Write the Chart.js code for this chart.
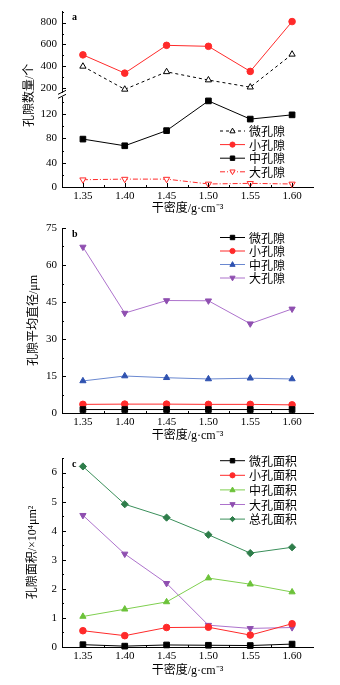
<!DOCTYPE html>
<html>
<head>
<meta charset="utf-8">
<script src="https://cdn.jsdelivr.net/npm/chart.js@4.4.0/dist/chart.umd.min.js"></script>
<style>
    body { margin: 0; background: #ffffff; }
    #figure { position: relative; width: 340px; height: 685px; overflow: hidden; }
    .panel { position: absolute; left: 0; width: 340px; }
</style>
</head>
<body>
<div id="figure">
    <div class="panel" style="top:0px;height:216px"><canvas id="chartA"></canvas></div>
    <div class="panel" style="top:215px;height:228px"><canvas id="chartB"></canvas></div>
    <div class="panel" style="top:440px;height:238px"><canvas id="chartC"></canvas></div>
</div>
<script>
// Dry density categories (x axis)
const densityLabels = ['1.35', '1.40', '1.45', '1.50', '1.55', '1.60'];

// Panel a - pore counts
const microCount = [400, 190, 350, 275, 210, 510];
const smallCount = [505, 338, 592, 583, 354, 809];
const mediumCount = [79, 68, 93, 142, 112, 119];
const largeCount = [12, 13, 13, 5, 6, 5];
const countTicksUpper = [200, 400, 600, 800];
const countTicksLower = [0, 40, 80, 120];

// Panel b - mean pore diameter (um)
const microDiameter = [1.4, 1.4, 1.4, 1.4, 1.4, 1.4];
const smallDiameter = [3.5, 3.6, 3.6, 3.5, 3.5, 3.3];
const mediumDiameter = [13.0, 15.0, 14.3, 13.8, 14.1, 13.8];
const largeDiameter = [67.3, 40.5, 45.6, 45.5, 36.2, 42.2];
const diameterTicks = [0, 15, 30, 45, 60, 75];

// Panel c - pore area (x10^4 um^2)
const microArea = [0.08, 0.03, 0.07, 0.06, 0.05, 0.10];
const smallArea = [0.56, 0.39, 0.67, 0.68, 0.41, 0.80];
const mediumArea = [1.05, 1.30, 1.55, 2.37, 2.16, 1.89];
const largeArea = [4.53, 3.20, 2.19, 0.75, 0.64, 0.67];
const totalArea = [6.21, 4.91, 4.45, 3.86, 3.23, 3.43];
const areaTicks = [0, 1, 2, 3, 4, 5, 6];

const SERIF = "'Liberation Serif', 'Noto Sans CJK SC', serif";
const CJK = "'Noto Sans CJK SC', 'Liberation Serif', sans-serif";

Chart.defaults.font.family = SERIF;
Chart.defaults.font.size = 11;
Chart.defaults.color = '#000';

// Build one line series
function makeSeries(label, data, opts) {
    return {
        label: label,
        data: data,
        borderColor: opts.line,
        borderWidth: 1,
        borderDash: opts.dash || [],
        pointStyle: opts.shape,
        pointRotation: opts.rotation || 0,
        pointRadius: opts.radius || 3.3,
        pointBackgroundColor: opts.fill,
        pointBorderColor: opts.marker,
        pointBorderWidth: 1,
        yAxisID: opts.axis || 'y',
        tension: 0,
        clip: false
    };
}

// Draw a small marker for the legend
function drawMarker(ctx, ds, x, y) {
    const r = 2.6;
    ctx.save();
    ctx.setLineDash([]);
    ctx.lineWidth = 1;
    ctx.fillStyle = ds.pointBackgroundColor;
    ctx.strokeStyle = ds.pointBorderColor;
    ctx.translate(x, y);
    ctx.rotate((ds.pointRotation || 0) * Math.PI / 180);
    ctx.beginPath();
    if (ds.pointStyle === 'circle') {
        ctx.arc(0, 0, r, 0, Math.PI * 2);
    } else if (ds.pointStyle === 'rect') {
        ctx.rect(-r * 0.85, -r * 0.85, r * 1.7, r * 1.7);
    } else if (ds.pointStyle === 'rectRot') {
        ctx.moveTo(0, -r); ctx.lineTo(r, 0); ctx.lineTo(0, r); ctx.lineTo(-r, 0); ctx.closePath();
    } else {
        ctx.moveTo(0, -r * 1.1); ctx.lineTo(r, r * 0.7); ctx.lineTo(-r, r * 0.7); ctx.closePath();
    }
    ctx.fill();
    ctx.stroke();
    ctx.restore();
}

// Legend with line segment + marker, Origin style
const lineLegend = {
    id: 'lineLegend',
    afterDraw(chart, args, opts) {
        const ctx = chart.ctx;
        ctx.save();
        chart.data.datasets.forEach((ds, i) => {
            const y = opts.y0 + i * opts.dy;
            ctx.strokeStyle = ds.borderColor;
            ctx.lineWidth = 1;
            ctx.setLineDash(ds.borderDash || []);
            ctx.beginPath();
            ctx.moveTo(220, y);
            ctx.lineTo(245, y);
            ctx.stroke();
            drawMarker(ctx, ds, 232.5, y);
            ctx.fillStyle = '#000';
            ctx.font = '12px ' + CJK;
            ctx.textBaseline = 'middle';
            ctx.textAlign = 'left';
            ctx.fillText(ds.label, 249, y + 0.5);
        });
        ctx.restore();
    }
};

// Inward major / minor ticks, panel letter, axis break, optional y title
const panelDecor = {
    id: 'panelDecor',
    afterDraw(chart, args, opts) {
        const ctx = chart.ctx;
        const area = chart.chartArea;
        ctx.save();
        ctx.strokeStyle = '#000';
        ctx.lineWidth = 1;
        ctx.setLineDash([]);

        Object.values(chart.scales).forEach(scale => {
            if (scale.isHorizontal()) {
                const n = scale.ticks.length;
                for (let i = 0; i < n; i++) {
                    const px = Math.round(scale.getPixelForTick(i)) + 0.5;
                    ctx.beginPath(); ctx.moveTo(px, scale.top); ctx.lineTo(px, scale.top - 4); ctx.stroke();
                    if (i < n - 1) {
                        const mx = Math.round((scale.getPixelForTick(i) + scale.getPixelForTick(i + 1)) / 2) + 0.5;
                        ctx.beginPath(); ctx.moveTo(mx, scale.top); ctx.lineTo(mx, scale.top - 2); ctx.stroke();
                    }
                }
            } else {
                const vals = scale.ticks.map(t => t.value);
                const step = vals[1] - vals[0];
                vals.forEach((v, i) => {
                    const py = Math.round(scale.getPixelForValue(v)) + 0.5;
                    ctx.beginPath(); ctx.moveTo(scale.right, py); ctx.lineTo(scale.right + 4, py); ctx.stroke();
                    const mv = v + step / 2;
                    if (mv <= scale.max) {
                        const my = Math.round(scale.getPixelForValue(mv)) + 0.5;
                        ctx.beginPath(); ctx.moveTo(scale.right, my); ctx.lineTo(scale.right + 2, my); ctx.stroke();
                    }
                });
            }
        });

        // axis break marks
        if (opts.breakScale) {
            const b = chart.scales[opts.breakScale].bottom;
            const x = area.left;
            ctx.fillStyle = '#fff';
            ctx.fillRect(x - 1.5, b - 2, 3, 4);
            ctx.beginPath();
            ctx.moveTo(x - 4, b - 0.5); ctx.lineTo(x + 4, b - 4.5);
            ctx.moveTo(x - 4, b + 3.5); ctx.lineTo(x + 4, b - 0.5);
            ctx.stroke();
        }

        // panel letter
        ctx.fillStyle = '#000';
        ctx.font = 'bold 10px ' + SERIF;
        ctx.textAlign = 'left';
        ctx.textBaseline = 'top';
        ctx.fillText(opts.letter, area.left + 10, area.top + 1);

        // y title spanning the broken axis
        if (opts.yTitle) {
            ctx.translate(30, (area.top + area.bottom) / 2 - 4);
            ctx.rotate(-Math.PI / 2);
            ctx.font = '12px ' + SERIF;
            ctx.textAlign = 'center';
            ctx.textBaseline = 'middle';
            ctx.fillText(opts.yTitle, 0, 0);
        }
        ctx.restore();
    }
};

Chart.register(lineLegend, panelDecor);

// Shared x axis
function xAxis(height) {
    return {
        type: 'category',
        offset: true,
        grid: { display: false, drawTicks: false },
        border: { display: true, color: '#000', width: 1 },
        ticks: { padding: 3, font: { size: 11 } },
        title: {
            display: true,
            text: '干密度/g·cm⁻³',
            font: { size: 12, family: SERIF },
            padding: { top: 0, bottom: 0 }
        },
        afterFit(scale) { scale.height = height; }
    };
}

// Shared y axis
function yAxis(min, max, tickValues, extra) {
    const axis = {
        type: 'linear',
        position: 'left',
        min: min,
        max: max,
        grid: { display: false, drawTicks: false },
        border: { display: true, color: '#000', width: 1 },
        ticks: { padding: 5, font: { size: 11 } },
        afterBuildTicks(scale) {
            scale.ticks = tickValues.map(v => ({ value: v }));
        },
        afterFit(scale) { scale.width = 62; }
    };
    return Object.assign(axis, extra || {});
}

function baseOptions(topPad) {
    return {
        responsive: true,
        maintainAspectRatio: false,
        animation: false,
        layout: { padding: { left: 0, right: 27, top: topPad, bottom: 0 } },
        plugins: { legend: { display: false }, tooltip: { enabled: false } }
    };
}

// Panel a: pore counts, broken y axis (first axis in the stack is placed at the bottom)
function initializeChartA() {
    const options = baseOptions(10);
    options.scales = {
        x: xAxis(29),
        yBot: yAxis(0, 152, countTicksLower, { stack: 'count', stackWeight: 93 }),
        yTop: yAxis(140, 900, countTicksUpper, { stack: 'count', stackWeight: 84 })
    };
    options.plugins.lineLegend = { y0: 131, dy: 13.6 };
    options.plugins.panelDecor = { letter: 'a', breakScale: 'yTop', yTitle: '孔隙数量/个' };

    new Chart(document.getElementById('chartA'), {
        type: 'line',
        data: {
            labels: densityLabels,
            datasets: [
                makeSeries('微孔隙', microCount, { line: '#000', marker: '#000', fill: '#fff', shape: 'triangle', dash: [3, 3], axis: 'yTop', radius: 3.6 }),
                makeSeries('小孔隙', smallCount, { line: '#ff2a2a', marker: '#ff2a2a', fill: '#ff2a2a', shape: 'circle', axis: 'yTop' }),
                makeSeries('中孔隙', mediumCount, { line: '#000', marker: '#000', fill: '#000', shape: 'rect', axis: 'yBot', radius: 4 }),
                makeSeries('大孔隙', largeCount, { line: '#ff2a2a', marker: '#ff2a2a', fill: '#fff', shape: 'triangle', rotation: 180, dash: [5, 2, 1, 2], axis: 'yBot', radius: 3.6 })
            ]
        },
        options: options
    });
}

// Panel b: mean diameter
function initializeChartB() {
    const options = baseOptions(13);
    options.scales = {
        x: xAxis(30),
        y: yAxis(0, 75, diameterTicks, {
            title: { display: true, text: '孔隙平均直径/μm', font: { size: 12, family: SERIF }, padding: { top: 27, bottom: 0 } }
        })
    };
    options.plugins.lineLegend = { y0: 22.5, dy: 13.5 };
    options.plugins.panelDecor = { letter: 'b' };

    new Chart(document.getElementById('chartB'), {
        type: 'line',
        data: {
            labels: densityLabels,
            datasets: [
                makeSeries('微孔隙', microDiameter, { line: '#000', marker: '#000', fill: '#000', shape: 'rect', radius: 4 }),
                makeSeries('小孔隙', smallDiameter, { line: '#ff2a2a', marker: '#ff2a2a', fill: '#ff2a2a', shape: 'circle' }),
                makeSeries('中孔隙', mediumDiameter, { line: '#6a88d0', marker: '#2f52b0', fill: '#2f52b0', shape: 'triangle', radius: 3.6 }),
                makeSeries('大孔隙', largeDiameter, { line: '#ad72cc', marker: '#8f4fb0', fill: '#8f4fb0', shape: 'triangle', rotation: 180, radius: 3.6 })
            ]
        },
        options: options
    });
}

// Panel c: pore area
function initializeChartC() {
    const options = baseOptions(18);
    options.scales = {
        x: xAxis(31),
        y: yAxis(0, 6.5, areaTicks, {
            title: { display: true, text: '孔隙面积/×10⁴μm²', font: { size: 12, family: SERIF }, padding: { top: 26, bottom: 0 } }
        })
    };
    options.plugins.lineLegend = { y0: 20.7, dy: 14.6 };
    options.plugins.panelDecor = { letter: 'c' };

    new Chart(document.getElementById('chartC'), {
        type: 'line',
        data: {
            labels: densityLabels,
            datasets: [
                makeSeries('微孔面积', microArea, { line: '#000', marker: '#000', fill: '#000', shape: 'rect', radius: 4 }),
                makeSeries('小孔面积', smallArea, { line: '#ff2a2a', marker: '#ff2a2a', fill: '#ff2a2a', shape: 'circle' }),
                makeSeries('中孔面积', mediumArea, { line: '#7fcf4f', marker: '#6cc23a', fill: '#6cc23a', shape: 'triangle', radius: 3.6 }),
                makeSeries('大孔面积', largeArea, { line: '#ad72cc', marker: '#8f4fb0', fill: '#8f4fb0', shape: 'triangle', rotation: 180, radius: 3.6 }),
                makeSeries('总孔面积', totalArea, { line: '#3a8f5a', marker: '#2e7d4a', fill: '#2e7d4a', shape: 'rectRot', radius: 3.6 })
            ]
        },
        options: options
    });
}

document.addEventListener('DOMContentLoaded', function() {
    initializeChartA();
    initializeChartB();
    initializeChartC();
});
</script>
</body>
</html>
